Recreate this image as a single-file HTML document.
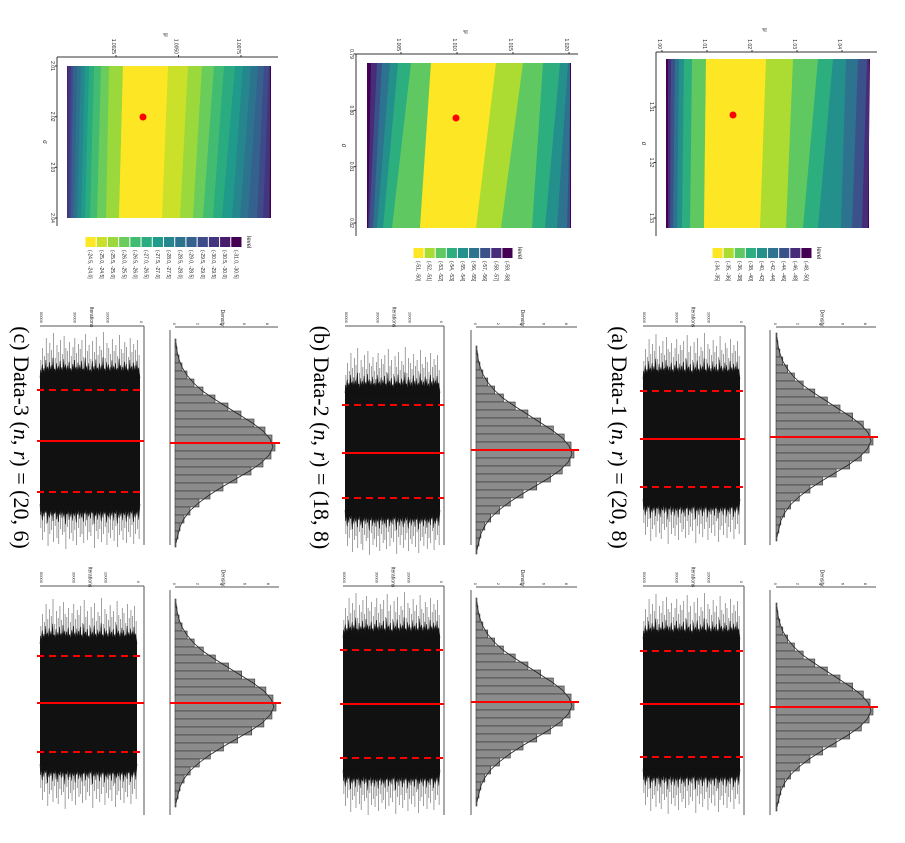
<!DOCTYPE html>
<html><head><meta charset="utf-8"><style>
html,body{margin:0;padding:0;background:#fff;width:905px;height:843px;overflow:hidden}
svg text{font-family:"Liberation Sans",sans-serif}
svg text.ttl{font-family:"Liberation Serif",serif}
</style></head><body>
<svg id="fig" width="905" height="843" viewBox="0 0 905 843" xmlns="http://www.w3.org/2000/svg"></svg>
<script>
// ---- data ----
const histDensity = [0.01,0.02,0.04,0.07,0.12,0.19,0.28,0.40,0.53,0.66,0.79,0.90,0.97,1.0,0.96,0.88,0.76,0.62,0.48,0.35,0.24,0.15,0.09,0.05,0.03,0.01];
const traceSpikesTop = [18,30,22,40,25,35,28,45,20,33,26,38,24,42,30,27,36,22,31,40,25,34,29,38,21,44,27,33,19,37,26,41,23,32,28,46,20,35,30,24,39,27,33,22,43,29,25,36,31,21,40,26,34,28,38,23];
const traceSpikesBot = [24,36,28,20,42,30,26,38,22,34,40,25,31,28,45,23,35,29,37,26,41,24,33,30,39,22,36,28,32,21,44,27,35,25,38,30,23,41,29,34,26,37,22,43,31,27,36,24,39,28,33,21,40,30,25,35];
const legendA = ["(-34, -35]","(-35, -36]","(-36, -38]","(-38, -40]","(-40, -42]","(-42, -44]","(-44, -46]","(-46, -48]","(-48, -50]"];
const legendB = ["(-51, -50]","(-52, -51]","(-53, -52]","(-54, -53]","(-55, -54]","(-56, -55]","(-57, -56]","(-58, -57]","(-59, -58]"];
const legendC = ["(-24.5, -24.0]","(-25.0, -24.5]","(-25.5, -25.0]","(-26.0, -25.5]","(-26.5, -26.0]","(-27.0, -26.5]","(-27.5, -27.0]","(-28.0, -27.5]","(-28.5, -28.0]","(-29.0, -28.5]","(-29.5, -29.0]","(-30.0, -29.5]","(-30.5, -30.0]","(-31.0, -30.5]"];
const muTicksA = ["1.00","1.01","1.02","1.03","1.04"];
const muTicksB = ["1.005","1.010","1.015","1.020"];
const muTicksC = ["1.0025","1.0050","1.0075"];
const sigTicksA = ["1.31","1.32","1.33"];
const sigTicksB = ["0.79","0.80","0.81","0.82"];
const sigTicksC = ["2.01","2.02","2.03","2.04"];

const S = document.getElementById('fig');
const NS = 'http://www.w3.org/2000/svg';
function mk(tag, at, parent){const e=document.createElementNS(NS,tag);for(const k in at)e.setAttribute(k,at[k]);(parent||S).appendChild(e);return e;}
function rtext(x,y,str,size,parent,anchor){const t=mk('text',{x:x,y:y,'font-size':size,transform:`rotate(90 ${x} ${y})`,'text-anchor':anchor||'middle',fill:'#222'},parent);t.textContent=str;return t;}
const vir=[[253,231,37],[181,222,43],[110,206,88],[53,183,121],[31,158,137],[38,130,142],[49,104,142],[62,73,137],[72,40,120],[68,1,84]];
function viridis(t){const p=t*(vir.length-1);const i=Math.min(Math.floor(p),vir.length-2);const f=p-i;const c=vir[i].map((v,k)=>Math.round(v+(vir[i+1][k]-v)*f));return `rgb(${c.join(',')})`;}

// ---- contour panels ----
function contour(cfg){
  const g=mk('g',{});
  
  
  const n=cfg.levels.length;
  const col=i=>viridis(i/(n-1));
  mk('rect',{x:cfg.x0,y:cfg.y0,width:cfg.x1-cfg.x0,height:cfg.y1-cfg.y0,fill:col(n-1)},g);
  const L=cfg.leftT, LB=cfg.leftB;
  for(let i=L.length-1;i>=0;i--){
    mk('polygon',{points:`${L[i]},${cfg.y0} ${cfg.x1},${cfg.y0} ${cfg.x1},${cfg.y1} ${LB[i]},${cfg.y1}`,fill:col(Math.min(i+1,n-1))},g);
  }
  mk('polygon',{points:`${L[0]},${cfg.y0} ${cfg.x1},${cfg.y0} ${cfg.x1},${cfg.y1} ${LB[0]},${cfg.y1}`,fill:col(0)},g);
  const R=cfg.rightT, RB=cfg.rightB;
  for(let i=0;i<R.length;i++){
    mk('polygon',{points:`${R[i]},${cfg.y0} ${cfg.x1},${cfg.y0} ${cfg.x1},${cfg.y1} ${RB[i]},${cfg.y1}`,fill:col(Math.min(i+1,n-1))},g);
  }
  const d=mk('circle',{cx:cfg.dot[0],cy:cfg.dot[1],r:3.5,fill:'#f00'},g);
  
  
  mk('line',{x1:cfg.ax,y1:cfg.ay,x2:cfg.ax,y2:cfg.y1+8,stroke:'#333','stroke-width':1},g);
  mk('line',{x1:cfg.ax,y1:cfg.ay,x2:cfg.x1+8,y2:cfg.ay,stroke:'#333','stroke-width':1},g);
  cfg.muTicks.forEach((t,i)=>{const x=cfg.muX[0]+(cfg.muX[1]-cfg.muX[0])*i/(cfg.muTicks.length-1);
    mk('line',{x1:x,y1:cfg.ay-2,x2:x,y2:cfg.ay,stroke:'#333'},g);rtext(x-4,cfg.ay-3,t,5,g,'end');});
  cfg.sigTicks.forEach((t,i)=>{const y=cfg.sgY[0]+(cfg.sgY[1]-cfg.sgY[0])*i/(cfg.sigTicks.length-1);
    mk('line',{x1:cfg.ax-2,y1:y,x2:cfg.ax,y2:y,stroke:'#333'},g);rtext(cfg.ax-6,y,t,5,g);});
  rtext((cfg.x0+cfg.x1)/2-4,cfg.ay-22,'μ',6,g);
  rtext(cfg.ax-14,(cfg.y0+cfg.y1)/2,'σ',6,g);
  const lw=(cfg.legX[1]-cfg.legX[0])/n;
  cfg.levels.forEach((lab,i)=>{
    const r=mk('rect',{x:cfg.legX[0]+i*lw+0.5,y:cfg.legY,width:lw-1,height:10,fill:col(i)},g);
    
    
    rtext(cfg.legX[0]+i*lw+lw/2-2,cfg.legY+13,lab,5,g,'start');
  });
  rtext(cfg.legX[1]+5,cfg.legY-1,'level',6,g,'start');
}
contour({name:'contour-a',levels:legendA,x0:666,x1:869,y0:59,y1:228,ax:656,ay:52,dot:[733,115],
  leftT:[706,692,684,679,675,671,668,667],leftB:[704,690,682,677,673,670,668,667],
  rightT:[766,793,818,833,846,858,867,870],rightB:[760,786,803,818,841,852,862,868],
  muTicks:muTicksA,muX:[662,842],sigTicks:sigTicksA,sgY:[107,218],legX:[712,812],legY:248});
contour({name:'contour-b',levels:legendB,x0:367,x1:570,y0:63,y1:228,ax:356,ay:54,dot:[456,118],
  leftT:[431,411,398,390,382,377,371,368],leftB:[420,392,383,377,373,369,368,367],
  rightT:[496,523,543,560,568,571,571,571],rightB:[476,501,532,545,557,567,571,571],
  muTicks:muTicksB,muX:[401,569],sigTicks:sigTicksB,sgY:[54,223],legX:[413,513],legY:248});
contour({name:'contour-c',levels:legendC,x0:67,x1:270,y0:66,y1:218,ax:57,ay:57,dot:[143,117],
  leftT:[123,109,101,94,89,85,81,77,73,71,68,67,67],leftB:[119,106,97,90,85,81,77,74,71,69,67,67,67],
  rightT:[168,188,202,214,224,235,243,251,258,264,269,271,271],rightB:[162,180,193,203,213,222,232,240,248,257,263,269,271],
  muTicks:muTicksC,muX:[116,241],sigTicks:sigTicksC,sgY:[66,218],legX:[85,242],legY:237});

// ---- hist + trace panels ----
function histTrace(c){
  const g=mk('g',{});
  
  
  mk('line',{x1:c.hAx,y1:c.top,x2:c.hAx,y2:c.bot,stroke:'#555'},g);
  mk('line',{x1:c.hx0,y1:c.top-3,x2:c.hx1+3,y2:c.top-3,stroke:'#555'},g);
  ['0','2','4','6','8'].forEach((t,i)=>{const x=c.hx0+(c.hx1-c.hx0)*i/4.3;rtext(x-2,c.top-5,t,4,g,'end');});
  rtext((c.hx0+c.hx1)/2-4,c.top-12,'Density',5,g);
  const n=histDensity.length, bh=c.binH, y0=c.red-n*bh/2;
  let path='';
  histDensity.forEach((v,i)=>{
    const w=v*(c.hx1-c.hx0);
    const r=mk('rect',{x:c.hx0,y:y0+i*bh,width:w,height:bh,fill:'#8c8c8c',stroke:'#333','stroke-width':0.6},g);
    
    
    path+=(i?'L':'M')+(c.hx0+w*0.98)+','+(y0+i*bh+bh/2);
  });
  mk('path',{d:path,fill:'none',stroke:'#222','stroke-width':0.8},g);
  const rl=mk('line',{x1:c.hAx,y1:c.red,x2:c.hx1+5,y2:c.red,stroke:'#f00','stroke-width':2},g);
  
  
  mk('line',{x1:c.tAx,y1:c.top-4,x2:c.tAx,y2:c.bot,stroke:'#555'},g);
  mk('line',{x1:c.tx0,y1:c.top-4,x2:c.tAx,y2:c.top-4,stroke:'#555'},g);
  ['50000','30000','10000','0'].forEach((t,i)=>{const x=c.tx0+(c.tx1-c.tx0)*i/3;rtext(x,c.top-7,t,4,g,'end');});
  rtext((c.tx0+c.tx1)/2,c.top-13,'Iterations',5,g);
  const core=mk('rect',{x:c.tx0,y:c.dash[0]-12,width:c.tx1-c.tx0,height:c.dash[1]-c.dash[0]+24,fill:'#111'},g);
  
  
  const m=traceSpikesTop.length, sw=(c.tx1-c.tx0)/m;
  const top=c.dash[0]-12, bot=c.dash[1]+12;
  let pt='M'+c.tx0+','+top, pb='M'+c.tx0+','+bot;
  traceSpikesTop.forEach((h,i)=>{const x=c.tx0+i*sw;
    pt+=`L${x+sw*0.3},${top-h*0.45}L${x+sw*0.7},${top-h*0.2}`;
    mk('line',{x1:x+sw/2,y1:top,x2:x+sw/2,y2:top-h,stroke:'#777','stroke-width':0.7},g);});
  traceSpikesBot.forEach((h,i)=>{const x=c.tx0+i*sw;
    pb+=`L${x+sw*0.3},${bot+h*0.45}L${x+sw*0.7},${bot+h*0.2}`;
    mk('line',{x1:x+sw/2,y1:bot,x2:x+sw/2,y2:bot+h,stroke:'#777','stroke-width':0.7},g);});
  mk('path',{d:pt+`L${c.tx1},${top}Z`,fill:'#111',stroke:'#111','stroke-width':0.5},g);
  mk('path',{d:pb+`L${c.tx1},${bot}Z`,fill:'#111',stroke:'#111','stroke-width':0.5},g);
  const s=mk('line',{x1:c.tx0-3,y1:c.solid,x2:c.tAx,y2:c.solid,stroke:'#f00','stroke-width':2},g);
  
  
  c.dash.forEach(y=>{const d=mk('line',{x1:c.tx0-3,y1:y,x2:c.tAx,y2:y,stroke:'#f00','stroke-width':2,'stroke-dasharray':'7,5'},g);
    
    });
  if(c.title){const t=rtext(c.titleX,(c.top+c.bot)/2,'',22,g);
    t.setAttribute('class','ttl');t.setAttribute('fill','#000');
    t.innerHTML=c.title;}
}
const TT=(k,d,nr)=>`(${k}) Data-${d} (<tspan font-style="italic">n</tspan>, <tspan font-style="italic">r</tspan>) = (${nr})`;
histTrace({name:'panel-a-sigma',top:330,bot:545,hAx:770,hx0:776,hx1:873,red:437,binH:8,tAx:745,tx0:643,tx1:740,solid:439,dash:[391,487],titleX:612,title:TT('a',1,'20, 8')});
histTrace({name:'panel-a-mu',top:590,bot:815,hAx:770,hx0:776,hx1:873,red:707,binH:8,tAx:744,tx0:643,tx1:740,solid:704,dash:[651,757]});
histTrace({name:'panel-b-sigma',top:330,bot:545,hAx:471,hx0:476,hx1:574,red:450,binH:8,tAx:444,tx0:345,tx1:440,solid:453,dash:[405,498],titleX:314,title:TT('b',2,'18, 8')});
histTrace({name:'panel-b-mu',top:590,bot:815,hAx:471,hx0:476,hx1:574,red:702,binH:8,tAx:444,tx0:343,tx1:440,solid:704,dash:[650,758]});
histTrace({name:'panel-c-sigma',top:330,bot:545,hAx:170,hx0:175,hx1:275,red:443,binH:8,tAx:144,tx0:40,tx1:140,solid:441,dash:[390,492],titleX:14,title:TT('c',3,'20, 6')});
histTrace({name:'panel-c-mu',top:590,bot:815,hAx:170,hx0:175,hx1:276,red:703,binH:8,tAx:144,tx0:40,tx1:137,solid:703,dash:[656,752]});
</script>
</body></html>
